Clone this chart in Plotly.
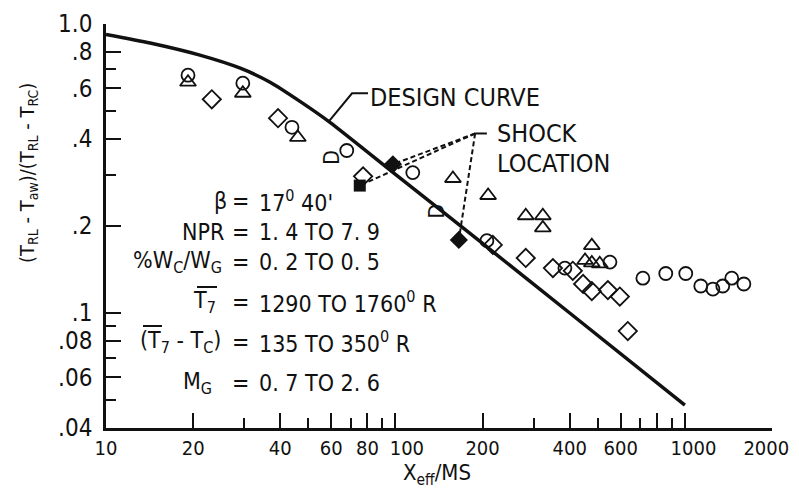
import numpy as np
import plotly.graph_objects as go

# ---------------- data ----------------
design_x = [10, 14.2, 21.1, 29.1, 36.9, 46.8, 59.4, 100, 200, 400, 1000]
design_y = [0.92, 0.859, 0.78, 0.703, 0.629, 0.54, 0.457, 0.302, 0.174, 0.100, 0.048]

circle_x = [19.2, 29.7, 43.9, 67.9, 114.8, 207, 385, 551, 716, 859, 1007, 1135, 1250, 1352, 1452, 1599]
circle_y = [0.665, 0.624, 0.439, 0.365, 0.306, 0.178, 0.143, 0.150, 0.132, 0.137, 0.137, 0.124, 0.121, 0.124, 0.132, 0.126]

triangle_x = [19.2, 29.7, 46.0, 158, 209, 282, 323, 323, 477, 452, 477, 508]
triangle_y = [0.629, 0.576, 0.405, 0.292, 0.255, 0.217, 0.217, 0.197, 0.171, 0.152, 0.149, 0.148]

diamond_x = [23.2, 39.3, 77.3, 217, 282, 350, 410, 445, 477, 542, 596, 635]
diamond_y = [0.549, 0.472, 0.297, 0.172, 0.155, 0.143, 0.140, 0.126, 0.119, 0.120, 0.114, 0.0866]

dome_x = [60.4, 139]
dome_y = [0.345, 0.226]

shock_square_x = [75.3]
shock_square_y = [0.276]
shock_diamond_x = [98, 165.6]
shock_diamond_y = [0.327, 0.179]

NB = "\u00a0"
x_major = [10, 20, 40, 60, 80, 100, 200, 400, 600, 800, 1000, 2000]
x_major_text = ["10", "20", "40", "60", "80", NB * 4 + "100", "200", "400", "600", "",
                NB * 3 + "1000", "2000" + NB * 2]
x_minor = [30, 50, 70, 90, 300, 500, 700, 900]
y_major = [1.0, 0.8, 0.6, 0.4, 0.2, 0.1, 0.08, 0.06, 0.04]
y_major_text = ["1.0", ".8", ".6", ".4", ".2", ".1", ".08", ".06", ".04"]
y_minor = [0.7, 0.5, 0.3, 0.09, 0.07, 0.05]

# leader anchors (data units)
design_leader_x = [58.5, 70.8, 80.4]
design_leader_y = [0.457, 0.576, 0.576]
shock_anchor = (188.5, 0.418)
shock_anchor_end_x = 207

params = [
    ("β", "17<sup>0</sup> 40'"),
    ("NPR", "1. 4 TO 7. 9"),
    ("%W<sub>C</sub>/W<sub>G</sub>", "0. 2 TO 0. 5"),
    ("T<sub>7</sub>", "1290 TO 1760<sup>0</sup> R"),
    ("(T<sub>7</sub> - T<sub>C</sub>)", "135 TO 350<sup>0</sup> R"),
    ("M<sub>G</sub>", "0. 7 TO 2. 6"),
]

FONT = "Liberation Sans Narrow, DejaVu Sans Condensed, Arial Narrow, sans-serif"
BLACK = "#111111"

# page body has an 8px margin on every side -> keep the whole page inside the 799x497 window
WIN_W, WIN_H = 799, 497
OFF = 8
W, H = WIN_W - 2 * OFF, WIN_H - 2 * OFF
L, T = 106, 24               # desired plot-area origin in the screenshot
PW, PH = 666, 404
mL, mT = L - OFF, T - OFF
mR = W - mL - PW
mB = H - mT - PH


def P(px, py):
    return (px - L) / PW, (T + PH - py) / PH


fig = go.Figure()

fig.add_trace(go.Scatter(x=design_x, y=design_y, mode="lines",
                         line=dict(color=BLACK, width=3.5, shape="spline", smoothing=0.6),
                         showlegend=False, hoverinfo="skip"))

# design curve leader
fig.add_trace(go.Scatter(x=design_leader_x, y=design_leader_y, mode="lines",
                         line=dict(color=BLACK, width=2), showlegend=False, hoverinfo="skip"))
# shock leaders
fig.add_trace(go.Scatter(x=[shock_anchor[0], shock_anchor_end_x], y=[shock_anchor[1], shock_anchor[1]],
                         mode="lines", line=dict(color=BLACK, width=2),
                         showlegend=False, hoverinfo="skip"))
for tx, ty in zip(shock_square_x + shock_diamond_x, shock_square_y + shock_diamond_y):
    fig.add_trace(go.Scatter(x=[shock_anchor[0], tx], y=[shock_anchor[1], ty], mode="lines",
                             line=dict(color=BLACK, width=2, dash="5px,3px"),
                             showlegend=False, hoverinfo="skip"))

mk_line = dict(color=BLACK, width=1.8)
fig.add_trace(go.Scatter(x=circle_x, y=circle_y, mode="markers",
                         marker=dict(symbol="circle-open", size=13, color=BLACK, line=mk_line),
                         showlegend=False))
fig.add_trace(go.Scatter(x=triangle_x, y=triangle_y, mode="markers",
                         marker=dict(symbol="triangle-up-open", size=14, color=BLACK, line=mk_line),
                         showlegend=False))
fig.add_trace(go.Scatter(x=diamond_x, y=diamond_y, mode="markers",
                         marker=dict(symbol="diamond-open", size=14, color=BLACK, line=mk_line),
                         showlegend=False))
fig.add_trace(go.Scatter(x=shock_square_x, y=shock_square_y, mode="markers",
                         marker=dict(symbol="square", size=12, color=BLACK),
                         showlegend=False))
fig.add_trace(go.Scatter(x=shock_diamond_x, y=shock_diamond_y, mode="markers",
                         marker=dict(symbol="diamond", size=14, color=BLACK),
                         showlegend=False))

# dome-shaped markers: rotated "D"
for dx, dy in zip(dome_x, dome_y):
    fig.add_annotation(x=np.log10(dx), y=np.log10(dy), xref="x", yref="y",
                       text="D", textangle=-90, showarrow=False,
                       font=dict(family=FONT, size=21, color=BLACK),
                       xanchor="center", yanchor="middle")


def txt(px, py, s, size=24, xanchor="left", angle=0):
    xp, yp = P(px, py)
    fig.add_annotation(x=xp, y=yp, xref="paper", yref="paper", text=s, showarrow=False,
                       xanchor=xanchor, yanchor="middle", textangle=angle,
                       font=dict(family=FONT, size=size, color=BLACK))


txt(368, 97, "DESIGN CURVE", 25)
txt(495, 133, "SHOCK", 25)
txt(495, 163, "LOCATION", 25)

row_y = [201, 232, 262, 302, 342, 383]
label_right = [229, 226, 224, 218, 223, 214]
for (lab, val), ry, lr in zip(params, row_y, label_right):
    txt(lr, ry, lab, 23, xanchor="right")
    txt(240, ry, "=", 23, xanchor="center")
    txt(257, ry, val, 23, xanchor="left")

# overlines on T7
for (x0, x1, yy) in [(197, 217, 287), (143, 162, 326)]:
    a0, b0 = P(x0, yy)
    a1, _ = P(x1, yy)
    fig.add_shape(type="line", xref="paper", yref="paper", x0=a0, x1=a1, y0=b0, y1=b0,
                  line=dict(color=BLACK, width=2))

# axis titles
txt(28, 173, "(T<sub>RL</sub> - T<sub>aw</sub>)/(T<sub>RL</sub> - T<sub>RC</sub>)", 20, xanchor="center", angle=-90)
txt(437, 474, "X<sub>eff</sub>/MS", 22, xanchor="center")

fig.update_xaxes(type="log", range=[1, np.log10(2000)], showline=True, linecolor=BLACK, linewidth=2.5,
                 ticks="inside", ticklen=15, tickwidth=2, tickcolor=BLACK,
                 tickvals=x_major, ticktext=x_major_text, tickangle=0, ticklabeloverflow="allow",
                 minor=dict(tickvals=x_minor, ticks="inside", ticklen=10, tickwidth=2, tickcolor=BLACK),
                 showgrid=False, zeroline=False, automargin=False,
                 tickfont=dict(family=FONT, size=20, color=BLACK))
fig.update_yaxes(type="log", range=[np.log10(0.04), 0], showline=True, linecolor=BLACK, linewidth=2.5,
                 ticks="inside", ticklen=15, tickwidth=2, tickcolor=BLACK,
                 tickvals=y_major, ticktext=y_major_text, ticklabelstandoff=6, ticklabeloverflow="allow",
                 minor=dict(tickvals=y_minor, ticks="inside", ticklen=10, tickwidth=2, tickcolor=BLACK),
                 showgrid=False, zeroline=False, automargin=False,
                 tickfont=dict(family=FONT, size=24, color=BLACK))

fig.update_layout(width=W, height=H, margin=dict(l=mL, r=mR, t=mT, b=mB),
                  paper_bgcolor="white", plot_bgcolor="white", showlegend=False)

fig.write_html("out.html")
